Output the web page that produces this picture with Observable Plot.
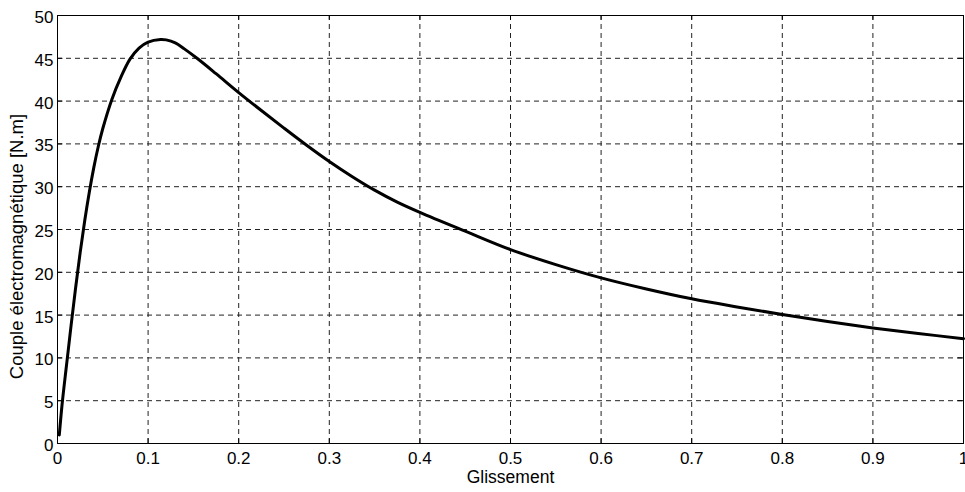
<!DOCTYPE html>
<html>
<head>
<meta charset="utf-8">
<script src="https://cdn.jsdelivr.net/npm/d3@7"></script>
<script src="https://cdn.jsdelivr.net/npm/@observablehq/plot@0.6"></script>
<style>
  html, body { margin: 0; padding: 0; background: #fff; }
  #chart { width: 965px; height: 492px; }
</style>
</head>
<body>
<div id="chart"></div>
<script>
// Torque–slip characteristic of the induction machine
const slip = [0.002, 0.005, 0.01, 0.015, 0.02, 0.025, 0.03, 0.035, 0.04, 0.045, 0.05,
              0.06, 0.07, 0.08, 0.09, 0.1, 0.1137, 0.12, 0.13, 0.14, 0.154, 0.175,
              0.2, 0.225, 0.25, 0.275, 0.3, 0.325, 0.35, 0.375, 0.4, 0.45, 0.5,
              0.55, 0.6, 0.65, 0.7, 0.75, 0.8, 0.85, 0.9, 0.95, 1.0];
const torque = [1.0, 4.5, 9.2, 13.8, 18.2, 22.3, 26.0, 29.3, 32.2, 34.7, 36.8,
                40.2, 42.8, 44.9, 46.2, 46.9, 47.2, 47.15, 46.8, 46.1, 45.0, 43.2,
                41.0, 38.9, 36.85, 34.85, 32.95, 31.2, 29.6, 28.2, 27.0, 24.8, 22.65,
                20.9, 19.35, 18.05, 16.9, 15.95, 15.07, 14.25, 13.5, 12.85, 12.25];

const xTicks = [0, 0.1, 0.2, 0.3, 0.4, 0.5, 0.6, 0.7, 0.8, 0.9, 1];
const yTicks = [0, 5, 10, 15, 20, 25, 30, 35, 40, 45, 50];
const xLabel = "Glissement";
const yLabel = "Couple électromagnétique [N.m]";

const curve = slip.map((s, i) => ({s, t: torque[i]}));

const gridStyle = {stroke: "#222", strokeWidth: 1, strokeDasharray: "5,4"};
const tickLenY = 0.55;   // inner tick length in torque units
const tickLenX = 0.006;  // inner tick length in slip units

const chart = Plot.plot({
  width: 965,
  height: 492,
  marginLeft: 57,
  marginRight: 2,
  marginTop: 15,
  marginBottom: 49,
  style: {fontFamily: "'Liberation Sans', Arial, sans-serif", fontSize: "17px", background: "#fff", color: "#000"},
  x: {domain: [0, 1], label: null},
  y: {domain: [0, 50], label: null},
  marks: [
    // dashed grid
    Plot.ruleX(xTicks.slice(1, -1), gridStyle),
    Plot.ruleY(yTicks.slice(1, -1), gridStyle),
    // inner tick marks on all four sides
    Plot.ruleX(xTicks, {y1: 0, y2: tickLenY, stroke: "#000"}),
    Plot.ruleX(xTicks, {y1: 50 - tickLenY, y2: 50, stroke: "#000"}),
    Plot.ruleY(yTicks, {x1: 0, x2: tickLenX, stroke: "#000"}),
    Plot.ruleY(yTicks, {x1: 1 - tickLenX, x2: 1, stroke: "#000"}),
    // tick labels
    Plot.axisX(xTicks, {tickSize: 0, tickPadding: 8, tickFormat: d => String(d), fontSize: 17, label: null}),
    Plot.axisY(yTicks, {tickSize: 0, tickPadding: 4, dy: 2, tickFormat: d => String(d), fontSize: 17, label: null}),
    // axis titles
    Plot.text([xLabel], {frameAnchor: "bottom", lineAnchor: "bottom", textAnchor: "middle", dy: 39, fontSize: 17.5, text: d => d}),
    Plot.text([yLabel], {frameAnchor: "left", lineAnchor: "middle", textAnchor: "middle", dx: -40, dy: 17, rotate: -90, fontSize: 18.5, text: d => d}),
    // curve
    Plot.line(curve, {x: "s", y: "t", stroke: "#000", strokeWidth: 3, curve: "catmull-rom"}),
    Plot.frame({stroke: "#000", strokeWidth: 1})
  ]
});

document.getElementById("chart").appendChild(chart);
</script>
</body>
</html>
